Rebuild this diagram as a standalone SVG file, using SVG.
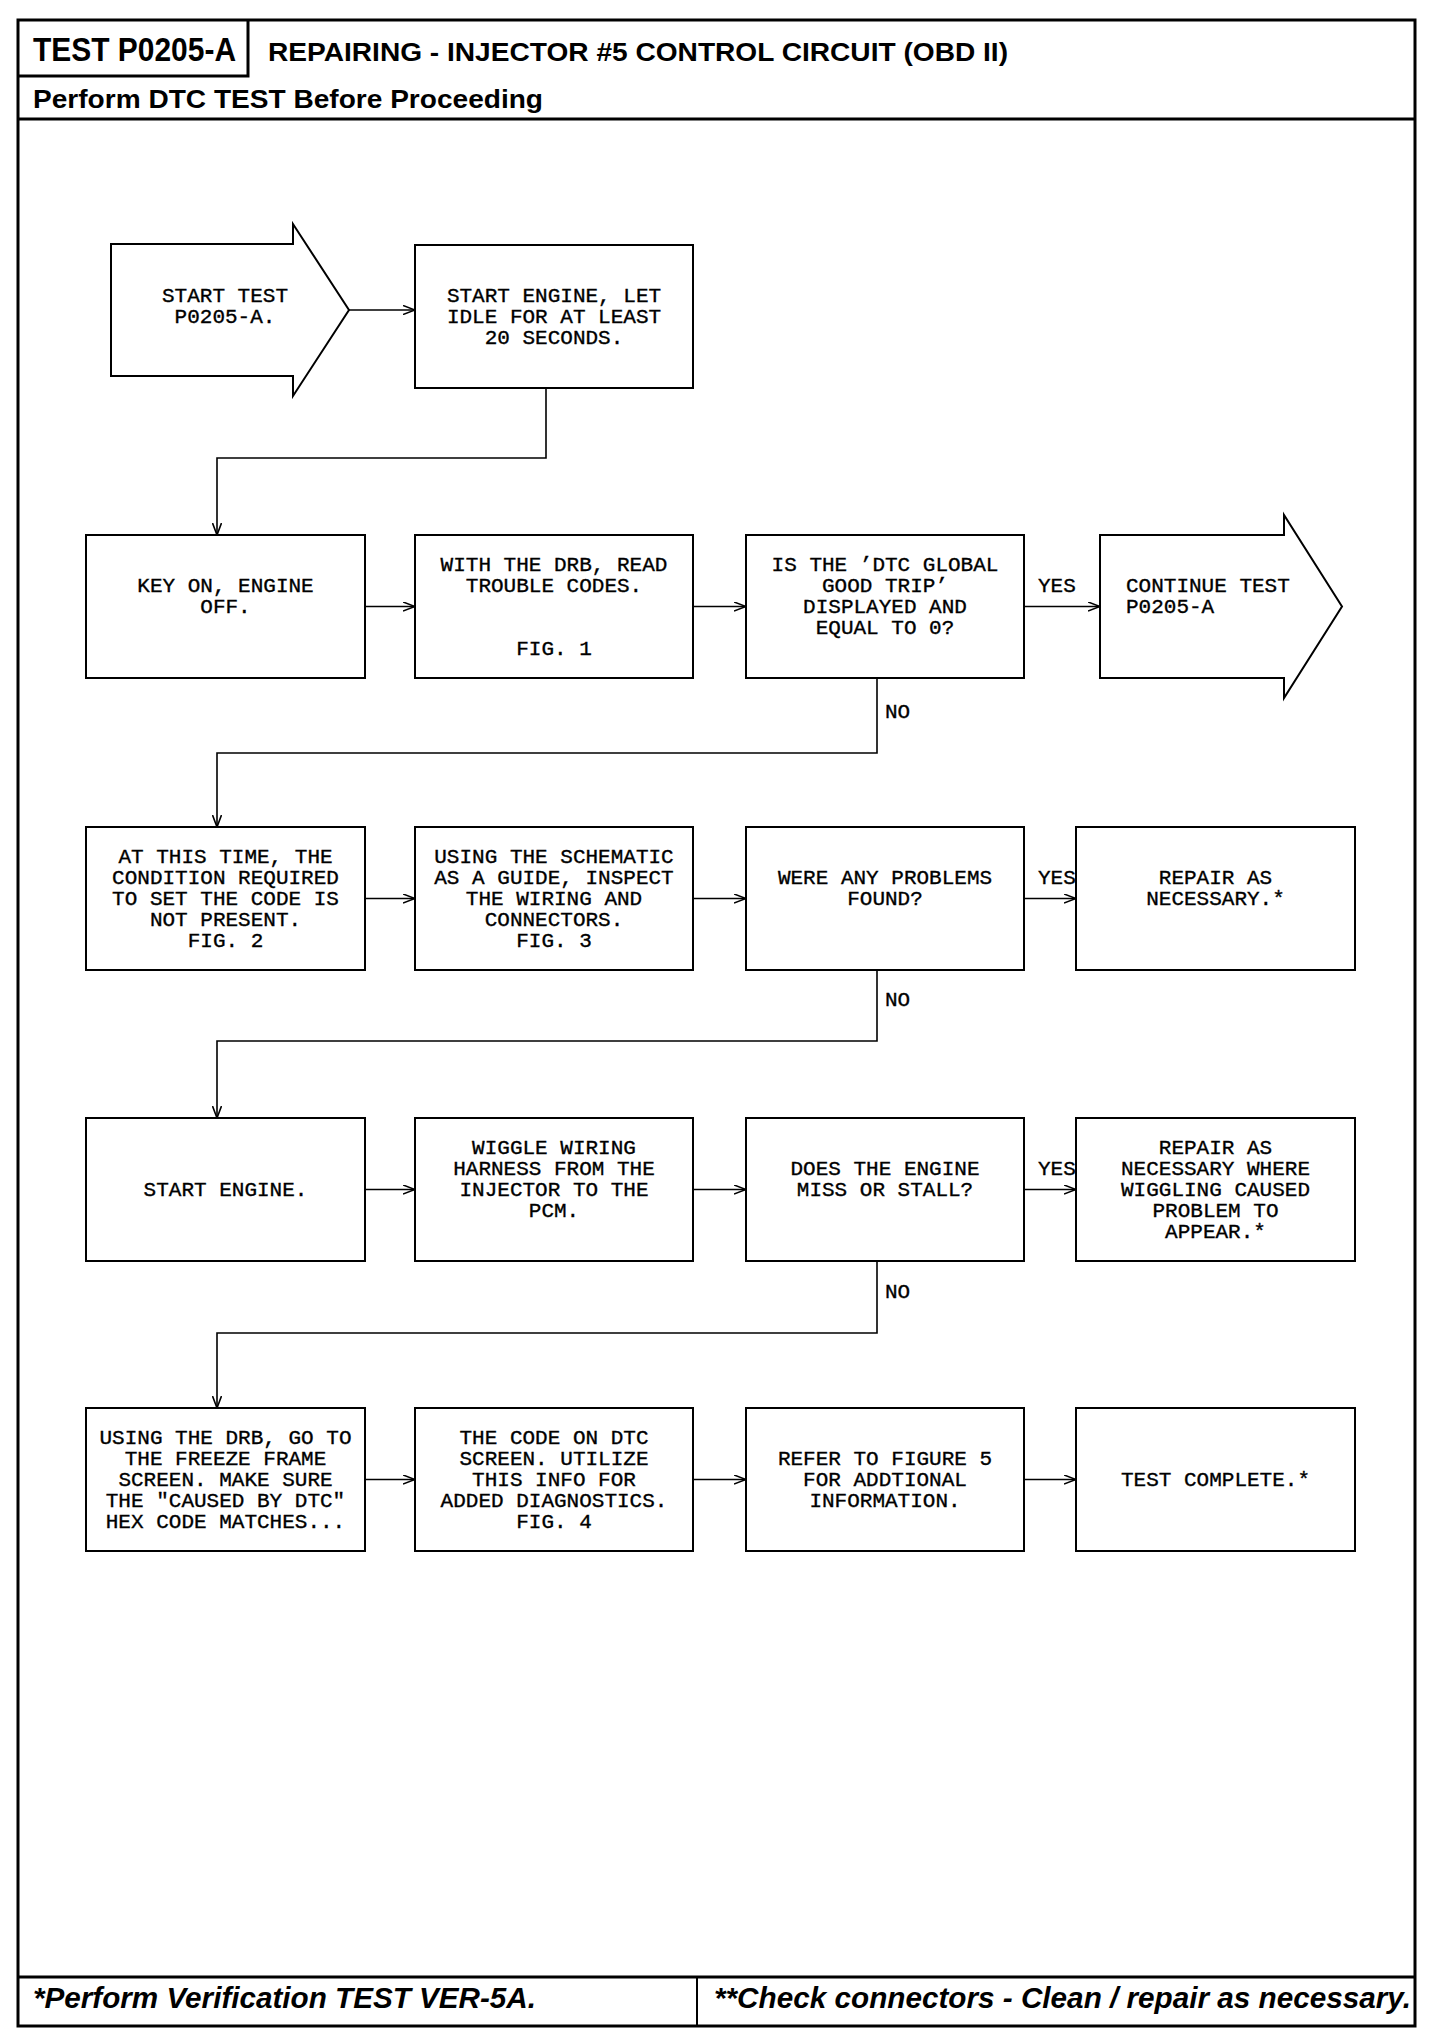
<svg xmlns="http://www.w3.org/2000/svg" width="1440" height="2040" viewBox="0 0 1440 2040">
<style>
.frame{fill:none;stroke:#000;stroke-width:3}
.box{fill:#fff;stroke:#000;stroke-width:2}
.con{fill:none;stroke:#000;stroke-width:1.6}
.t{font-family:"Liberation Mono","Courier New",monospace;font-size:21px;fill:#000;stroke:#000;stroke-width:0.35;text-anchor:middle}
.tl{font-family:"Liberation Mono","Courier New",monospace;font-size:21px;fill:#000;stroke:#000;stroke-width:0.35}
.h{font-family:"Liberation Sans",Arial,sans-serif;font-weight:bold;fill:#000}
.f{font-family:"Liberation Sans",Arial,sans-serif;font-weight:bold;font-style:italic;fill:#000}
</style>
<defs>
<marker id="ah" viewBox="0 0 12 10" refX="12" refY="5" markerWidth="12" markerHeight="10" orient="auto" markerUnits="userSpaceOnUse">
<path d="M0,0.5 L12,5 L0,9.5" fill="none" stroke="#000" stroke-width="1.6"/>
</marker>
</defs>
<rect width="1440" height="2040" fill="#fff"/>
<g id="frame">
<rect class="frame" x="18" y="20" width="1397" height="2006"/>
<polyline class="frame" points="18,76 248,76 248,20"/>
<line class="frame" x1="18" y1="119" x2="1415" y2="119"/>
<line class="frame" x1="18" y1="1977" x2="1415" y2="1977"/>
<line class="frame" x1="697" y1="1977" x2="697" y2="2026" style="stroke-width:2"/>
<text class="h" x="33" y="61" font-size="33" textLength="203" lengthAdjust="spacingAndGlyphs">TEST P0205-A</text>
<text class="h" x="268" y="61" font-size="25" textLength="740" lengthAdjust="spacingAndGlyphs">REPAIRING - INJECTOR #5 CONTROL CIRCUIT (OBD II)</text>
<text class="h" x="33" y="108" font-size="26" textLength="510" lengthAdjust="spacingAndGlyphs">Perform DTC TEST Before Proceeding</text>
<text class="f" x="33" y="2008" font-size="29" textLength="503" lengthAdjust="spacingAndGlyphs">*Perform Verification TEST VER-5A.</text>
<text class="f" x="714" y="2008" font-size="29" textLength="697" lengthAdjust="spacingAndGlyphs">**Check connectors - Clean / repair as necessary.</text>
</g>
<g id="connectors">
<line class="con" x1="349" y1="310" x2="415" y2="310" marker-end="url(#ah)"/>
<polyline class="con" points="546,388 546,458 217,458 217,535" marker-end="url(#ah)"/>
<line class="con" x1="365" y1="606.5" x2="415" y2="606.5" marker-end="url(#ah)"/>
<line class="con" x1="693" y1="606.5" x2="746" y2="606.5" marker-end="url(#ah)"/>
<line class="con" x1="1024" y1="606.5" x2="1100" y2="606.5" marker-end="url(#ah)"/>
<polyline class="con" points="877,678 877,753 217,753 217,827" marker-end="url(#ah)"/>
<line class="con" x1="365" y1="898.5" x2="415" y2="898.5" marker-end="url(#ah)"/>
<line class="con" x1="693" y1="898.5" x2="746" y2="898.5" marker-end="url(#ah)"/>
<line class="con" x1="1024" y1="898.5" x2="1076" y2="898.5" marker-end="url(#ah)"/>
<polyline class="con" points="877,970 877,1041 217,1041 217,1118" marker-end="url(#ah)"/>
<line class="con" x1="365" y1="1189.5" x2="415" y2="1189.5" marker-end="url(#ah)"/>
<line class="con" x1="693" y1="1189.5" x2="746" y2="1189.5" marker-end="url(#ah)"/>
<line class="con" x1="1024" y1="1189.5" x2="1076" y2="1189.5" marker-end="url(#ah)"/>
<polyline class="con" points="877,1261 877,1333 217,1333 217,1408" marker-end="url(#ah)"/>
<line class="con" x1="365" y1="1479.5" x2="415" y2="1479.5" marker-end="url(#ah)"/>
<line class="con" x1="693" y1="1479.5" x2="746" y2="1479.5" marker-end="url(#ah)"/>
<line class="con" x1="1024" y1="1479.5" x2="1076" y2="1479.5" marker-end="url(#ah)"/>
<text class="tl" x="1038" y="592">YES</text>
<text class="tl" x="885" y="718">NO</text>
<text class="tl" x="1038" y="884">YES</text>
<text class="tl" x="885" y="1006">NO</text>
<text class="tl" x="1038" y="1175">YES</text>
<text class="tl" x="885" y="1298">NO</text>
</g>
<g id="n-start">
<polygon class="box" points="111,244 293,244 293,224 349,310 293,396 293,376 111,376"/>
<text class="t" x="225" y="302">START TEST</text>
<text class="t" x="225" y="323">P0205-A.</text>
</g>
<g id="n-idle">
<rect class="box" x="415" y="245" width="278" height="143"/>
<text class="t" x="554" y="302">START ENGINE, LET</text>
<text class="t" x="554" y="323">IDLE FOR AT LEAST</text>
<text class="t" x="554" y="344">20 SECONDS.</text>
</g>
<g id="n-keyon">
<rect class="box" x="86" y="535" width="279" height="143"/>
<text class="t" x="225.5" y="592">KEY ON, ENGINE</text>
<text class="t" x="225.5" y="613">OFF.</text>
</g>
<g id="n-read">
<rect class="box" x="415" y="535" width="278" height="143"/>
<text class="t" x="554" y="571">WITH THE DRB, READ</text>
<text class="t" x="554" y="592">TROUBLE CODES.</text>
<text class="t" x="554" y="655">FIG. 1</text>
</g>
<g id="n-goodtrip">
<rect class="box" x="746" y="535" width="278" height="143"/>
<text class="t" x="885" y="571">IS THE ’DTC GLOBAL</text>
<text class="t" x="885" y="592">GOOD TRIP’</text>
<text class="t" x="885" y="613">DISPLAYED AND</text>
<text class="t" x="885" y="634">EQUAL TO 0?</text>
</g>
<g id="n-continue">
<polygon class="box" points="1100,535 1284,535 1284,515 1342,606.5 1284,698 1284,678 1100,678"/>
<text class="tl" x="1126" y="592">CONTINUE TEST</text>
<text class="tl" x="1126" y="613">P0205-A</text>
</g>
<g id="n-condition">
<rect class="box" x="86" y="827" width="279" height="143"/>
<text class="t" x="225.5" y="863">AT THIS TIME, THE</text>
<text class="t" x="225.5" y="884">CONDITION REQUIRED</text>
<text class="t" x="225.5" y="905">TO SET THE CODE IS</text>
<text class="t" x="225.5" y="926">NOT PRESENT.</text>
<text class="t" x="225.5" y="947">FIG. 2</text>
</g>
<g id="n-inspect">
<rect class="box" x="415" y="827" width="278" height="143"/>
<text class="t" x="554" y="863">USING THE SCHEMATIC</text>
<text class="t" x="554" y="884">AS A GUIDE, INSPECT</text>
<text class="t" x="554" y="905">THE WIRING AND</text>
<text class="t" x="554" y="926">CONNECTORS.</text>
<text class="t" x="554" y="947">FIG. 3</text>
</g>
<g id="n-problems">
<rect class="box" x="746" y="827" width="278" height="143"/>
<text class="t" x="885" y="884">WERE ANY PROBLEMS</text>
<text class="t" x="885" y="905">FOUND?</text>
</g>
<g id="n-repair1">
<rect class="box" x="1076" y="827" width="279" height="143"/>
<text class="t" x="1215.5" y="884">REPAIR AS</text>
<text class="t" x="1215.5" y="905">NECESSARY.*</text>
</g>
<g id="n-start-engine">
<rect class="box" x="86" y="1118" width="279" height="143"/>
<text class="t" x="225.5" y="1196">START ENGINE.</text>
</g>
<g id="n-wiggle">
<rect class="box" x="415" y="1118" width="278" height="143"/>
<text class="t" x="554" y="1154">WIGGLE WIRING</text>
<text class="t" x="554" y="1175">HARNESS FROM THE</text>
<text class="t" x="554" y="1196">INJECTOR TO THE</text>
<text class="t" x="554" y="1217">PCM.</text>
</g>
<g id="n-stall">
<rect class="box" x="746" y="1118" width="278" height="143"/>
<text class="t" x="885" y="1175">DOES THE ENGINE</text>
<text class="t" x="885" y="1196">MISS OR STALL?</text>
</g>
<g id="n-repair2">
<rect class="box" x="1076" y="1118" width="279" height="143"/>
<text class="t" x="1215.5" y="1154">REPAIR AS</text>
<text class="t" x="1215.5" y="1175">NECESSARY WHERE</text>
<text class="t" x="1215.5" y="1196">WIGGLING CAUSED</text>
<text class="t" x="1215.5" y="1217">PROBLEM TO</text>
<text class="t" x="1215.5" y="1238">APPEAR.*</text>
</g>
<g id="n-freeze">
<rect class="box" x="86" y="1408" width="279" height="143"/>
<text class="t" x="225.5" y="1444">USING THE DRB, GO TO</text>
<text class="t" x="225.5" y="1465">THE FREEZE FRAME</text>
<text class="t" x="225.5" y="1486">SCREEN. MAKE SURE</text>
<text class="t" x="225.5" y="1507">THE "CAUSED BY DTC"</text>
<text class="t" x="225.5" y="1528">HEX CODE MATCHES...</text>
</g>
<g id="n-utilize">
<rect class="box" x="415" y="1408" width="278" height="143"/>
<text class="t" x="554" y="1444">THE CODE ON DTC</text>
<text class="t" x="554" y="1465">SCREEN. UTILIZE</text>
<text class="t" x="554" y="1486">THIS INFO FOR</text>
<text class="t" x="554" y="1507">ADDED DIAGNOSTICS.</text>
<text class="t" x="554" y="1528">FIG. 4</text>
</g>
<g id="n-refer">
<rect class="box" x="746" y="1408" width="278" height="143"/>
<text class="t" x="885" y="1465">REFER TO FIGURE 5</text>
<text class="t" x="885" y="1486">FOR ADDTIONAL</text>
<text class="t" x="885" y="1507">INFORMATION.</text>
</g>
<g id="n-complete">
<rect class="box" x="1076" y="1408" width="279" height="143"/>
<text class="t" x="1215.5" y="1486">TEST COMPLETE.*</text>
</g>
</svg>
